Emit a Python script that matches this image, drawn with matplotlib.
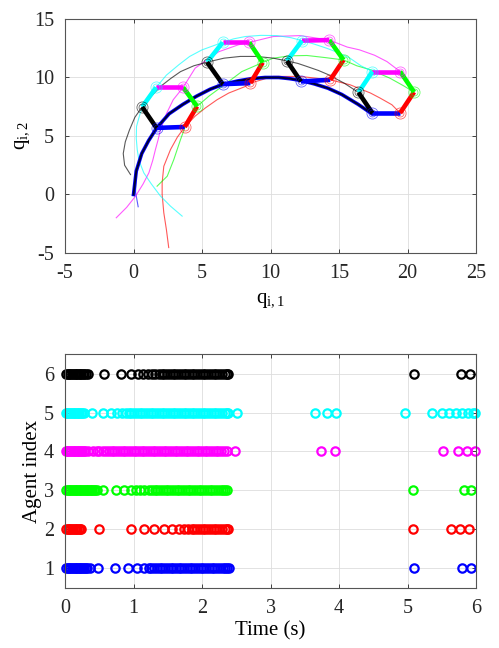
import matplotlib
matplotlib.use('Agg')
import matplotlib.pyplot as plt

plt.rcParams['font.family'] = ['Liberation Serif', 'DejaVu Serif']
plt.rcParams['mathtext.fontset'] = 'stix'
plt.rcParams['axes.unicode_minus'] = False

# ---- top panel: trajectories ----
ref_x = [0.0, 0.2, 0.6, 1.1, 1.7, 2.6, 3.6, 4.6, 5.6, 6.5, 7.6, 8.6, 9.6, 10.6, 11.4, 12.2, 13.2, 14.2, 15.2, 16.4, 17.4]
ref_y = [0.0, 2.0, 3.5, 4.6, 5.7, 6.9, 7.7, 8.4, 9.0, 9.4, 9.7, 9.9, 10.0, 10.0, 9.9, 9.75, 9.45, 9.08, 8.55, 7.7, 6.9]

blue_x = [0.34, 0.15, 0.2, 0.6, 1.1, 1.7, 2.6, 3.6, 4.6, 5.6, 6.5, 7.6, 8.6, 9.6, 10.6, 11.4, 12.2, 13.2, 14.2, 15.2, 16.4, 17.4]
blue_y = [-1.05, 0.2, 2.0, 3.5, 4.6, 5.7, 6.9, 7.7, 8.4, 9.0, 9.4, 9.7, 9.9, 10.0, 10.0, 9.9, 9.75, 9.45, 9.08, 8.55, 7.7, 6.9]
red_x = [2.57, 2.4, 2.21, 2.09, 2.09, 2.21, 2.7, 3.2, 3.74, 4.5, 5.25, 6.1, 6.95, 8.16, 8.53, 10.2, 12.17, 14.36, 15.8, 17.3, 18.0, 18.86, 19.46]
red_y = [-4.54, -3.0, -1.56, 0.0, 1.0, 2.41, 3.84, 4.9, 5.77, 6.7, 7.4, 8.1, 8.67, 9.23, 9.52, 10.09, 10.09, 9.8, 9.38, 8.67, 8.24, 7.67, 6.96]
green_x = [1.72, 2.46, 2.94, 3.43, 3.9, 4.64, 5.5, 6.46, 7.9, 9.43, 10.2, 11.4, 12.66, 14.0, 15.33, 16.3, 17.3, 18.7, 19.7, 20.48]
green_y = [0.71, 1.56, 2.98, 4.69, 6.2, 7.53, 8.4, 9.23, 10.5, 11.28, 11.65, 11.85, 11.88, 11.7, 11.5, 11.0, 10.66, 9.95, 9.3, 8.75]
magenta_x = [-1.26, -0.5, 0.15, 0.7, 1.12, 1.4, 1.6, 1.8, 1.97, 2.4, 2.9, 3.62, 4.5, 6.22, 7.67, 8.45, 10.2, 12.17, 14.29, 15.6, 16.5, 17.6, 18.5, 19.46]
magenta_y = [-1.99, -1.1, -0.14, 0.9, 1.85, 2.9, 3.84, 4.7, 5.54, 6.9, 8.1, 9.15, 10.8, 12.2, 12.8, 13.0, 13.5, 13.58, 13.2, 12.6, 12.36, 11.9, 11.36, 10.51]
cyan_x = [3.55, 2.7, 1.97, 1.3, 0.75, 0.4, 0.27, 0.2, 0.22, 0.5, 1.0, 1.65, 2.4, 3.3, 4.1, 5.0, 6.51, 7.3, 8.16, 9.3, 10.47, 11.5, 12.3, 13.2, 14.1, 15.0, 15.8, 16.6, 17.44]
cyan_y = [-1.85, -1.0, -0.14, 0.9, 1.85, 2.9, 3.84, 4.8, 5.82, 7.0, 8.2, 9.15, 10.2, 11.08, 11.8, 12.36, 13.0, 13.3, 13.5, 13.6, 13.58, 13.4, 13.15, 12.85, 12.5, 12.1, 11.65, 11.0, 10.51]
black_x = [-0.22, -0.65, -0.75, -0.6, -0.3, 0.1, 0.63, 1.3, 1.97, 2.7, 3.43, 4.4, 5.37, 6.6, 7.8, 9.0, 10.2, 11.2, 12.0, 12.66, 13.5, 14.24, 15.4, 16.42]
black_y = [1.7, 2.5, 3.5, 4.5, 5.5, 6.6, 7.48, 8.4, 9.23, 9.9, 10.5, 11.0, 11.31, 11.65, 11.8, 11.8, 11.65, 11.42, 11.2, 10.94, 10.6, 10.23, 9.5, 8.72]

# formation snapshots, agent order: blue, red, green, magenta, cyan, black
snap1_x = [1.68, 3.74, 4.64, 3.62, 1.65, 0.63]
snap1_y = [5.69, 5.77, 7.53, 9.15, 9.15, 7.48]
snap2_x = [6.51, 8.53, 9.43, 8.45, 6.51, 5.37]
snap2_y = [9.43, 9.52, 11.28, 13.0, 13.0, 11.31]
snap3_x = [12.22, 14.36, 15.33, 14.29, 12.3, 11.2]
snap3_y = [9.66, 9.8, 11.5, 13.2, 13.15, 11.42]
snap4_x = [17.44, 19.46, 20.48, 19.46, 17.44, 16.42]
snap4_y = [6.96, 6.96, 8.75, 10.51, 10.51, 8.72]

# ---- bottom panel: triggering instants (s) ----
ev1 = [0.02, 0.04, 0.06, 0.08, 0.10, 0.12, 0.14, 0.16, 0.18, 0.20, 0.22, 0.24, 0.26, 0.28, 0.30, 0.32, 0.36,
       0.48, 0.73, 0.92, 1.05, 1.16, 1.22,
       1.26, 1.30, 1.34, 1.38, 1.42, 1.46, 1.50, 1.54, 1.58, 1.62, 1.66, 1.70, 1.74, 1.78, 1.82, 1.86, 1.90,
       1.94, 1.98, 2.02, 2.06, 2.10, 2.14, 2.18, 2.22, 2.26, 2.30, 2.34, 2.37, 2.40,
       5.09, 5.79, 5.93]
ev2 = [0.02, 0.04, 0.06, 0.08, 0.10, 0.12, 0.14, 0.16, 0.18, 0.20, 0.22, 0.24,
       0.50, 0.96, 1.16, 1.30, 1.44, 1.56, 1.66, 1.74, 1.80, 1.85,
       1.89, 1.93, 1.97, 2.01, 2.05, 2.09, 2.13, 2.17, 2.21, 2.25, 2.29, 2.33, 2.36, 2.38,
       5.08, 5.63, 5.77, 5.90]
ev3 = [0.02, 0.04, 0.06, 0.08, 0.10, 0.12, 0.14, 0.16, 0.18, 0.20, 0.22, 0.24, 0.26, 0.28, 0.30, 0.32, 0.34,
       0.36, 0.38, 0.40, 0.42, 0.44, 0.46,
       0.55, 0.74, 0.86, 0.97, 1.04, 1.10, 1.16, 1.22, 1.27,
       1.31, 1.35, 1.39, 1.43, 1.47, 1.51, 1.55, 1.59, 1.63, 1.67, 1.71, 1.75, 1.79, 1.83, 1.87, 1.91, 1.95,
       1.99, 2.03, 2.07, 2.11, 2.15, 2.19, 2.23, 2.27, 2.31, 2.34, 2.37,
       5.08, 5.82, 5.93]
ev4 = [0.01, 0.03, 0.05, 0.07, 0.09, 0.11, 0.13, 0.15, 0.17, 0.19, 0.21, 0.23, 0.25, 0.27, 0.29,
       0.34, 0.41, 0.46, 0.50, 0.56,
       0.60, 0.64, 0.68, 0.72, 0.76, 0.80, 0.84, 0.88, 0.92, 0.96, 1.00, 1.04, 1.08, 1.12, 1.16, 1.20,
       1.24, 1.28, 1.32, 1.36, 1.40, 1.44, 1.48, 1.52, 1.56, 1.60, 1.64, 1.68, 1.72, 1.76, 1.80, 1.84,
       1.88, 1.92, 1.96, 2.00, 2.04, 2.08, 2.12, 2.16, 2.20, 2.24, 2.28, 2.32,
       2.36, 2.48, 3.74, 3.94, 5.52, 5.74, 5.87, 5.99]
ev5 = [0.01, 0.03, 0.05, 0.07, 0.09, 0.11, 0.13, 0.15, 0.17, 0.19, 0.21, 0.23, 0.25, 0.28,
       0.39, 0.55, 0.67, 0.76, 0.83, 0.89,
       0.93, 0.97, 1.01, 1.05, 1.09, 1.13, 1.17, 1.21, 1.25, 1.29, 1.33, 1.37, 1.41, 1.45, 1.49, 1.53,
       1.57, 1.61, 1.65, 1.69, 1.73, 1.77, 1.81, 1.85, 1.89, 1.93, 1.97, 2.01, 2.05, 2.09, 2.13, 2.17,
       2.21, 2.25, 2.29, 2.33, 2.36, 2.38,
       2.51, 3.65, 3.82, 3.95, 4.96, 5.36, 5.50, 5.61, 5.71, 5.80, 5.88, 5.95, 5.99]
ev6 = [0.02, 0.04, 0.06, 0.08, 0.10, 0.12, 0.14, 0.16, 0.18, 0.20, 0.22, 0.24, 0.26, 0.28, 0.30, 0.34,
       0.57, 0.81, 0.97, 1.06, 1.14, 1.21, 1.27, 1.32, 1.37, 1.41, 1.45,
       1.49, 1.53, 1.57, 1.61, 1.65, 1.69, 1.73, 1.77, 1.81, 1.85, 1.89, 1.93, 1.97, 2.01, 2.05, 2.09,
       2.13, 2.17, 2.21, 2.25, 2.29, 2.33, 2.36, 2.38,
       5.09, 5.78, 5.91]

colors = [(0, 0, 1), (1, 0, 0), (0, 1, 0), (1, 0, 1), (0, 1, 1), (0, 0, 0)]

fig = plt.figure(figsize=(4.99, 6.48), dpi=100)
ax1 = fig.add_axes([0.1303, 0.6096, 0.8236, 0.3611])
ax2 = fig.add_axes([0.1303, 0.0926, 0.8236, 0.3611])

trajs = [(blue_x, blue_y), (red_x, red_y), (green_x, green_y),
         (magenta_x, magenta_y), (cyan_x, cyan_y), (black_x, black_y)]
for (tx, ty), c in zip(trajs, colors):
    ax1.plot(tx, ty, color=c, lw=0.8, alpha=0.65)
ax1.plot(ref_x, ref_y, color='b', lw=2.6)
ax1.plot(ref_x, ref_y, color='k', lw=1.4, alpha=0.8)

for sx, sy in [(snap1_x, snap1_y), (snap2_x, snap2_y), (snap3_x, snap3_y), (snap4_x, snap4_y)]:
    for i in range(6):
        j = (i + 1) % 6
        ax1.plot([sx[i], sx[j]], [sy[i], sy[j]], color=colors[i], lw=3.3, solid_capstyle='butt')
    for i in range(6):
        ax1.plot(sx[i], sy[i], 'o', mfc='none', mec=colors[i], ms=8, mew=0.6, alpha=0.6)
        ax1.plot(sx[i], sy[i], 'o', mfc='none', mec=colors[i], ms=5, mew=0.6, alpha=0.6)

ax1.set_xlim(-5, 25)
ax1.set_ylim(-5, 15)
ax1.set_xticks([-5, 0, 5, 10, 15, 20, 25])
ax1.set_yticks([-5, 0, 5, 10, 15])
ax1.set_xlabel(r'$\mathregular{q_{i,1}}$', fontsize=15, labelpad=6)
ax1.set_ylabel(r'$\mathregular{q_{i,2}}$', fontsize=15, labelpad=1)

events = [ev1, ev2, ev3, ev4, ev5, ev6]
for k, (ev, c) in enumerate(zip(events, colors)):
    ax2.plot(ev, [k + 1] * len(ev), 'o', mfc='none', mec=c, ms=6, mew=1.6, clip_on=False)
ax2.set_xlim(0, 6)
ax2.set_ylim(0.5, 6.5)
ax2.set_xticks([0, 1, 2, 3, 4, 5, 6])
ax2.set_yticks([1, 2, 3, 4, 5, 6])
ax2.set_xlabel('Time (s)', fontsize=15, labelpad=2)
ax2.set_ylabel('Agent index', fontsize=15, labelpad=1)

for ax in (ax1, ax2):
    ax.grid(True, color='#dddddd', lw=0.6)
    ax.set_axisbelow(True)
    ax.tick_params(direction='in', top=True, right=True, length=3, width=0.6, pad=8,
                   labelsize=14.5, colors='#262626', labelcolor='#262626')
    for s in ax.spines.values():
        s.set_color('#555555')
        s.set_linewidth(0.8)

fig.savefig('out.png', dpi=100)
